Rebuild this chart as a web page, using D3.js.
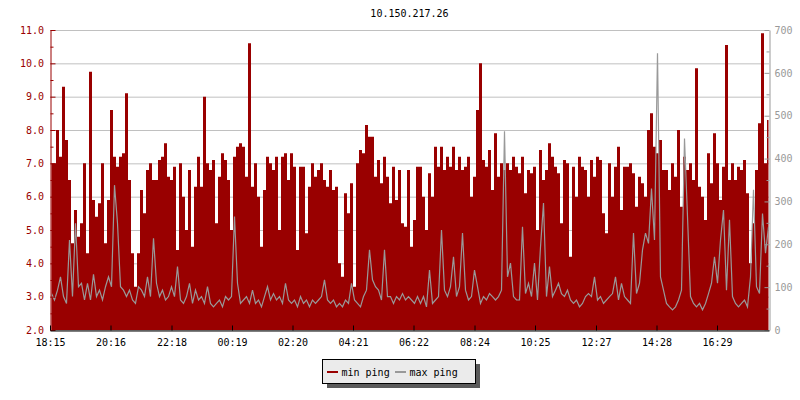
<!DOCTYPE html>
<html><head><meta charset="utf-8">
<script src="https://cdn.jsdelivr.net/npm/d3@7/dist/d3.min.js"></script>
<style>
body{margin:0;background:#fff}
text{font-family:"DejaVu Sans Mono",monospace;font-size:10px}
</style>
</head><body><svg id="c" width="800" height="400"></svg>
<script>
const title = "10.150.217.26";
const startTime = "18:15";
const tickLabels = ["18:15","20:16","22:18","00:19","02:20","04:21","06:22","08:24","10:25","12:27","14:28","16:29"];
const sampleMinutes = 6, sampleOffset = 3, spanMinutes = 1438;
const leftTicks = [2,3,4,5,6,7,8,9,10,11];
const rightTicks = [0,100,200,300,400,500,600,700];
const seriesNames = ["min ping","max ping"];

// min ping (left axis)
const minPing = [
7.0,7.0,8.0,7.2,9.3,7.7,6.5,4.6,5.6,4.8,5.2,7.0,4.3,9.75,5.9,5.4,5.8,7.0,4.6,5.9,8.6,7.2,6.9,7.2,7.3,9.1,6.5,4.3,3.3,4.3,6.2,5.5,6.8,7.0,6.5,6.5,7.1,7.2,7.6,6.6,
6.5,6.9,4.4,7.0,6.0,5.0,6.8,4.5,6.3,7.2,6.3,9.0,7.0,6.8,7.1,5.2,6.6,7.3,7.1,6.5,5.0,7.2,7.5,7.6,7.5,6.6,10.6,6.3,7.0,6.0,4.5,6.2,7.2,7.0,6.8,7.2,5.0,7.2,7.3,6.5,
7.3,6.9,4.4,6.9,6.9,4.9,6.3,7.0,6.6,6.8,7.0,6.5,6.3,6.8,6.2,6.3,4.0,3.6,6.1,5.5,6.4,3.3,7.0,7.4,7.3,8.15,7.8,7.8,6.6,7.1,6.4,7.2,6.6,5.8,6.9,5.9,6.8,5.2,5.1,6.8,
4.5,5.3,6.9,6.9,6.0,5.0,6.7,6.0,7.5,6.9,7.5,6.8,7.2,6.9,7.5,6.8,7.2,6.8,6.9,7.2,6.0,6.6,8.6,10.0,7.1,6.9,7.4,6.2,7.9,6.6,7.0,6.8,7.0,6.8,7.2,6.9,6.7,7.2,6.1,6.8,
6.7,6.9,5.0,7.4,6.5,6.8,7.6,7.2,6.9,6.7,5.2,7.1,7.0,4.2,6.9,6.0,7.2,6.9,6.8,6.0,7.1,6.6,7.2,7.1,5.5,4.9,7.0,6.0,6.9,7.5,5.6,6.9,6.9,7.0,6.7,5.7,6.6,6.4,6.0,8.0,
8.5,7.5,7.3,7.7,6.8,6.8,6.2,7.0,6.6,8.0,5.7,7.2,6.8,7.0,6.5,9.85,6.3,6.0,5.3,7.3,6.4,7.9,7.0,5.9,6.9,10.55,6.5,7.0,6.5,6.9,6.8,7.1,6.1,4.0,5.2,6.8,8.2,10.9,7.0,8.3
];
// max ping (right axis)
const maxPing = [
85,70,93,124,78,62,210,78,249,101,109,70,109,70,130,78,93,70,101,124,101,338,249,101,93,78,93,70,62,101,93,78,124,78,214,109,78,93,70,78,
101,78,148,70,62,78,109,62,93,70,78,62,101,62,54,62,70,54,78,70,78,265,109,62,70,78,62,93,62,70,54,78,101,70,85,70,78,62,109,70,
62,70,54,78,62,70,54,70,62,70,78,117,70,62,70,54,62,54,70,62,109,70,62,54,78,93,187,117,101,93,70,187,78,78,62,78,70,85,70,78,
70,62,78,62,78,54,140,62,70,78,233,93,78,101,171,78,101,226,93,70,78,140,101,62,78,70,85,78,70,78,93,464,124,156,78,70,70,241,85,109,
78,156,70,194,296,78,148,78,93,109,85,78,93,70,62,70,54,62,78,85,78,124,70,78,62,70,78,85,124,70,109,78,70,62,226,85,109,187,226,202,
330,210,646,124,93,62,54,47,54,70,93,447,265,78,62,54,62,47,62,85,109,171,109,210,280,93,257,78,62,54,62,70,54,124,327,101,85,272,179,241
];

const RED = "#990000", GREY = "#999999";
const M = {l:50, r:769, t:30, b:330};
const svg = d3.select("#c");

const toMin = s => { const [h,m] = s.split(":").map(Number); const [h0,m0] = startTime.split(":").map(Number);
  let t = h*60+m-(h0*60+m0); if (t<0) t+=1440; return t; };
const tickMins = tickLabels.map(toMin);

const x = d3.scaleLinear().domain([0, spanMinutes]).range([M.l, M.r]);
const yL = d3.scaleLinear().domain([2, 11]).range([M.b, M.t]);
const yR = d3.scaleLinear().domain([0, 700]).range([M.b, M.t]);
const tx = i => x(sampleOffset + i*sampleMinutes);

svg.append("text").attr("x", (M.l+M.r)/2).attr("y", 17).attr("text-anchor","middle").attr("fill","#000").text(title);

// gridlines
svg.append("g").selectAll("line").data(leftTicks).join("line")
  .attr("x1", M.l).attr("x2", M.r).attr("y1", d=>yL(d)+0.5).attr("y2", d=>yL(d)+0.5)
  .attr("stroke","#c0c0c0").attr("stroke-width",1);

svg.append("defs").append("clipPath").attr("id","clip").append("rect")
  .attr("x", M.l).attr("y", M.t).attr("width", M.r-M.l).attr("height", M.b-M.t);

const g = svg.append("g").attr("clip-path","url(#clip)");
g.append("path").datum(minPing)
  .attr("d", d3.area().curve(d3.curveStep).x((d,i)=>tx(i)).y0(yL(2)).y1(d=>yL(d)))
  .attr("fill", RED);
g.append("path").datum(maxPing)
  .attr("d", d3.line().x((d,i)=>tx(i)).y(d=>yR(d)))
  .attr("fill","none").attr("stroke", GREY).attr("stroke-width",1.2);

function styleAxis(sel, color){
  sel.selectAll("path").attr("stroke", color);
  sel.selectAll("line").attr("stroke", color);
  sel.selectAll("text").attr("fill", color).style("font-family","DejaVu Sans Mono, monospace").style("font-size","10px");
}
// left axis
const halfL = d3.range(2.5, 11, 1);
const gLm = svg.append("g").attr("transform",`translate(${M.l+0.5},0)`)
  .call(d3.axisLeft(yL).tickValues(halfL).tickSize(-3).tickSizeOuter(0).tickFormat(()=>""));
gLm.select(".domain").remove(); styleAxis(gLm, RED);
const gL = svg.append("g").attr("transform",`translate(${M.l+0.5},0)`)
  .call(d3.axisLeft(yL).tickValues(leftTicks).tickSize(-5).tickSizeOuter(0).tickPadding(6.5).tickFormat(d3.format(".1f")));
styleAxis(gL, RED);
// right axis
const halfR = d3.range(50, 700, 100);
const gRm = svg.append("g").attr("transform",`translate(${M.r+0.5},0)`)
  .call(d3.axisRight(yR).tickValues(halfR).tickSize(-3).tickSizeOuter(0).tickFormat(()=>""));
gRm.select(".domain").remove(); styleAxis(gRm, GREY);
const gR = svg.append("g").attr("transform",`translate(${M.r+0.5},0)`)
  .call(d3.axisRight(yR).tickValues(rightTicks).tickSize(-5).tickSizeOuter(0).tickPadding(5));
styleAxis(gR, GREY);
// bottom axis
const gB = svg.append("g").attr("transform",`translate(0,${M.b+0.5})`)
  .call(d3.axisBottom(x).tickValues(tickMins).tickSize(-5).tickSizeOuter(0).tickPadding(8).tickFormat((d,i)=>tickLabels[i]));
styleAxis(gB, "#000");

// legend
const lg = svg.append("g");
lg.append("rect").attr("x",327).attr("y",364).attr("width",153).attr("height",24).attr("fill","#5a5a5a");
lg.append("rect").attr("x",322.5).attr("y",359.5).attr("width",153).attr("height",24).attr("fill","#ebebeb").attr("stroke","#000");
const items = [{n:seriesNames[0], c:RED, x:327}, {n:seriesNames[1], c:GREY, x:395}];
items.forEach(it=>{
  lg.append("rect").attr("x",it.x).attr("y",371).attr("width",11).attr("height",2).attr("fill",it.c);
  lg.append("text").attr("x",it.x+14.5).attr("y",375.5).attr("fill","#000").text(it.n);
});
</script></body></html>
